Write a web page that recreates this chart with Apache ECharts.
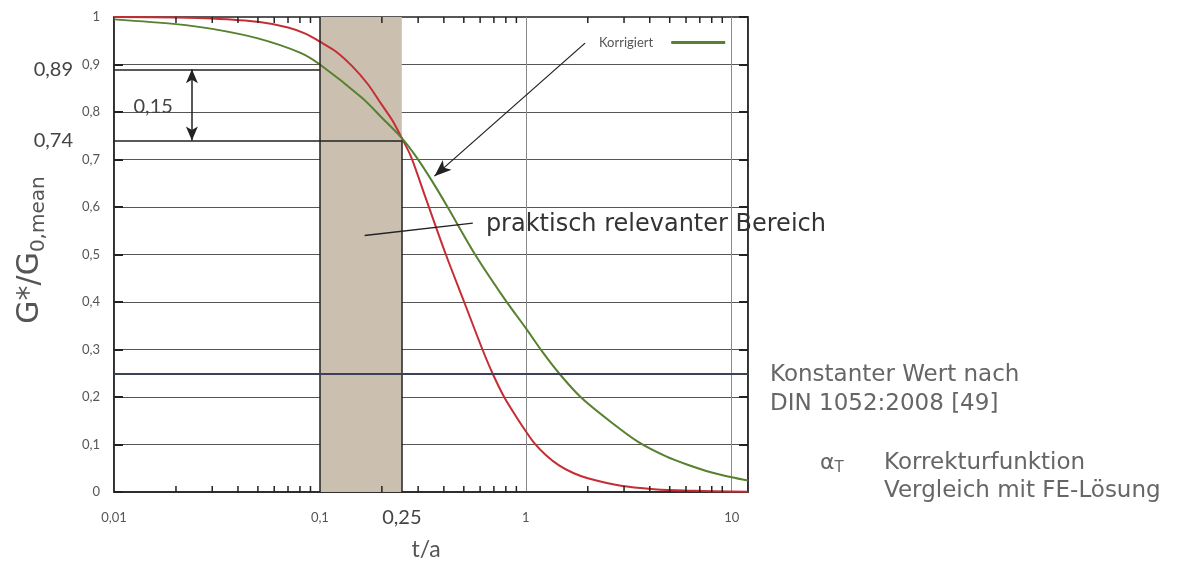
<!DOCTYPE html>
<html>
<head>
<meta charset="utf-8">
<script src="https://cdn.jsdelivr.net/npm/echarts@6/dist/echarts.min.js"></script>
<style>
  html, body { margin: 0; padding: 0; background: #ffffff; }
  #chart { width: 1179px; height: 562px; }
</style>
</head>
<body>
<div id="chart"></div>
<script>
// FE reference solution: t/a vs. G*/G0,mean
const feT = [0.01, 0.02, 0.03, 0.05, 0.07, 0.085, 0.1, 0.12, 0.143, 0.17, 0.2, 0.225, 0.25, 0.277, 0.327, 0.409, 0.502, 0.616, 0.689, 0.785, 0.9, 1.0, 1.1, 1.25, 1.45, 1.7, 2.0, 2.9, 4.2, 6.0, 12];
const feG = [1.0, 0.999, 0.997, 0.99, 0.978, 0.965, 0.948, 0.927, 0.897, 0.86, 0.815, 0.782, 0.745, 0.706, 0.618, 0.5, 0.4, 0.3, 0.25, 0.2, 0.158, 0.128, 0.103, 0.078, 0.056, 0.04, 0.029, 0.013, 0.006, 0.003, 0.0005];

// corrected function ("Korrigiert")
const corrT = [0.01, 0.02, 0.03, 0.05, 0.08, 0.1, 0.16, 0.2, 0.25, 0.292, 0.35, 0.417, 0.567, 0.793, 1.0, 1.205, 1.45, 1.845, 2.58, 3.53, 4.8, 6.06, 8, 10, 12];
const corrG = [0.995, 0.985, 0.975, 0.955, 0.925, 0.9, 0.83, 0.788, 0.745, 0.707, 0.655, 0.6, 0.5, 0.405, 0.345, 0.295, 0.25, 0.2, 0.148, 0.105, 0.075, 0.058, 0.041, 0.031, 0.024];

// reference values
const constValue = 0.25;        // constant value per DIN 1052:2008
const rangeT = [0.1, 0.25];     // practically relevant range
const upperRef = 0.89;
const lowerRef = 0.74;
const diffRef = 0.15;

// minor ticks of the logarithmic t/a axis
const xDecades = [0.01, 0.1, 1];
const xMinor = [];
xDecades.forEach(d => { for (let k = 2; k <= 9; k++) xMinor.push(+(d * k).toPrecision(3)); });

const FONT = 'Lato';
const WIDE = 'DejaVu Sans';
const comma = v => String(v).replace('.', ',');

const chart = echarts.init(document.getElementById('chart'));

const option = {
  animation: false,
  textStyle: { fontFamily: FONT },
  grid: {
    left: 114, right: 431, top: 17, bottom: 70,
    outerBoundsMode: 'none', containLabel: false,
    show: true, borderColor: '#222', borderWidth: 1.5, backgroundColor: 'transparent'
  },
  legend: {
    data: [{ name: 'Korrigiert', icon: 'rect' }],
    left: 594, top: 31,
    align: 'right',
    itemWidth: 54, itemHeight: 3,
    textStyle: { fontSize: 13, color: '#555', fontFamily: FONT, padding: [0, 13, 0, 0] }
  },
  xAxis: [{
    type: 'log', logBase: 10, min: 0.01, max: 12,
    axisLine: { show: true, lineStyle: { color: '#222', width: 1.5 } },
    axisTick: { show: false },
    axisLabel: {
      fontSize: 13, color: '#555', margin: 19, showMaxLabel: false,
      formatter: v => comma(+(+v).toPrecision(3))
    },
    splitLine: { show: true, lineStyle: { color: '#8a8a8a', width: 1 } },
    name: 't/a', nameLocation: 'middle', nameGap: 46,
    nameTextStyle: { fontSize: 23, color: '#555', fontFamily: FONT, padding: [0, 10, 0, 0] }
  }],
  yAxis: [{
    type: 'value', min: 0, max: 1, interval: 0.1,
    axisLine: { show: true, lineStyle: { color: '#222', width: 1.5 } },
    axisTick: { show: true, inside: true, length: 9, lineStyle: { color: '#222', width: 2 } },
    axisLabel: {
      fontSize: 13, color: '#555', margin: 14,
      formatter: v => comma(+v.toFixed(1))
    },
    splitLine: { show: true, lineStyle: { color: '#555', width: 1.2 } }
  }, {
    type: 'value', min: 0, max: 1, interval: 0.1, position: 'right',
    axisLine: { show: true, lineStyle: { color: '#222', width: 1.5 } },
    axisTick: { show: true, inside: true, length: 9, lineStyle: { color: '#222', width: 2 } },
    axisLabel: { show: false },
    splitLine: { show: false }
  }],
  graphic: [
    {
      type: 'text', x: 30, y: 250, rotation: Math.PI / 2,
      style: {
        text: '{a|G*/G}{s|0,mean}', align: 'center', verticalAlign: 'middle',
        rich: {
          a: { fontSize: 30, fontFamily: WIDE, fill: '#555', lineHeight: 38 },
          s: { fontSize: 20, fontFamily: WIDE, fill: '#555', lineHeight: 16, verticalAlign: 'bottom' }
        }
      }
    },
    {
      type: 'text', x: 770, y: 361,
      style: { text: 'Konstanter Wert nach\nDIN 1052:2008 [49]', font: '23px "DejaVu Sans"', fill: '#666', lineHeight: 29, verticalAlign: 'top' }
    },
    {
      type: 'text', x: 820, y: 463,
      style: {
        text: '{a|α}{t|T}', verticalAlign: 'middle',
        rich: {
          a: { fontSize: 22, fontFamily: WIDE, fill: '#666', lineHeight: 26 },
          t: { fontSize: 15, fontFamily: WIDE, fill: '#666', lineHeight: 14, verticalAlign: 'bottom' }
        }
      }
    },
    {
      type: 'text', x: 884, y: 449,
      style: { text: 'Korrekturfunktion\nVergleich mit FE-Lösung', font: '23px "DejaVu Sans"', fill: '#666', lineHeight: 28, verticalAlign: 'top' }
    }
  ],
  series: [
    // practically relevant range, reference lines and their labels
    {
      name: 'range', type: 'line', data: [], z: -1, silent: true,
      markArea: {
        silent: true,
        itemStyle: { color: '#cbbfb0' },
        data: [[{ xAxis: rangeT[0] }, { xAxis: rangeT[1] }]]
      },
      markLine: {
        silent: true, symbol: 'none',
        lineStyle: { color: '#222', width: 1.5, type: 'solid' },
        label: { show: false },
        data: [
          [{ coord: [rangeT[0], 0] }, { coord: [rangeT[0], 1] }],
          [{ coord: [rangeT[1], lowerRef] }, { coord: [rangeT[1], 0],
            label: { show: true, position: 'end', formatter: comma(rangeT[1]), fontSize: 20, color: '#444', distance: 16, fontFamily: FONT } }],
          [{ coord: [0.01, upperRef] }, { coord: [rangeT[0], upperRef],
            label: { show: true, position: 'start', formatter: comma(upperRef), fontSize: 20, color: '#444', distance: 41, fontFamily: FONT } }],
          [{ coord: [0.01, lowerRef] }, { coord: [rangeT[1], lowerRef],
            label: { show: true, position: 'start', formatter: comma(lowerRef), fontSize: 20, color: '#444', distance: 41, fontFamily: FONT } }]
        ]
      }
    },
    // difference arrow
    {
      name: 'diff', type: 'line', data: [], z: 3, silent: true,
      markLine: {
        silent: true, symbol: ['arrow', 'arrow'], symbolSize: [9, 14],
        lineStyle: { color: '#222', width: 1.5, type: 'solid' },
        label: { show: false },
        data: [[{ coord: [0.0239, upperRef] }, { coord: [0.0239, lowerRef] }]]
      },
      markPoint: {
        silent: true, symbol: 'circle', symbolSize: 0,
        label: { show: true, formatter: comma(diffRef), fontSize: 20, color: '#444', fontFamily: FONT, position: 'inside' },
        data: [{ coord: [0.0155, 0.812] }]
      }
    },
    // constant value after DIN 1052
    {
      name: 'DIN 1052', type: 'line', data: [], z: 3, silent: true,
      markLine: {
        silent: true, symbol: 'none',
        lineStyle: { color: '#3a4158', width: 2.2, type: 'solid' },
        label: { show: false },
        data: [{ yAxis: constValue }]
      }
    },
    // FE solution
    {
      name: 'FE-Lösung', type: 'line', smooth: 0.3, showSymbol: false, z: 4,
      lineStyle: { color: '#c62d33', width: 2 }, itemStyle: { color: '#c62d33' },
      data: feT.map((t, i) => [t, feG[i]])
    },
    // correction function
    {
      name: 'Korrigiert', type: 'line', smooth: 0.3, showSymbol: false, z: 4,
      lineStyle: { color: '#56812f', width: 2 }, itemStyle: { color: '#56812f' },
      data: corrT.map((t, i) => [t, corrG[i]])
    },
    // pointer from legend to curve
    {
      name: 'pointer', type: 'line', data: [], z: 5, silent: true,
      markLine: {
        silent: true, symbol: ['none', 'arrow'], symbolSize: [10, 17],
        lineStyle: { color: '#222', width: 1.3, type: 'solid' },
        label: { show: false },
        data: [[{ coord: [1.94, 0.945] }, { coord: [0.36, 0.665] }]]
      }
    },
    // leader and caption of the relevant range
    {
      name: 'rangeLabel', type: 'line', data: [], z: 5, silent: true,
      markLine: {
        silent: true, symbol: 'none',
        lineStyle: { color: '#222', width: 1.3, type: 'solid' },
        label: { show: false },
        data: [[{ coord: [0.165, 0.54] }, { coord: [0.553, 0.566] }]]
      },
      markPoint: {
        silent: true, symbol: 'circle', symbolSize: 0,
        label: { show: true, formatter: 'praktisch relevanter Bereich', fontSize: 24, color: '#333', fontFamily: WIDE, position: 'right', distance: 0 },
        data: [{ coord: [0.64, 0.562] }]
      }
    },
    // minor log ticks on bottom and top edge
    {
      name: 'logTicks', type: 'custom', silent: true, z: 5,
      data: xMinor.map(v => [v, 0]),
      renderItem: (params, api) => {
        const v = api.value(0);
        const b = api.coord([v, 0]);
        const t = api.coord([v, 1]);
        const st = { stroke: '#222', lineWidth: 1.5 };
        return {
          type: 'group', children: [
            { type: 'line', shape: { x1: b[0], y1: b[1], x2: b[0], y2: b[1] - 6 }, style: st },
            { type: 'line', shape: { x1: t[0], y1: t[1], x2: t[0], y2: t[1] + 6 }, style: st }
          ]
        };
      }
    }
  ]
};

chart.setOption(option);
</script>
</body>
</html>
